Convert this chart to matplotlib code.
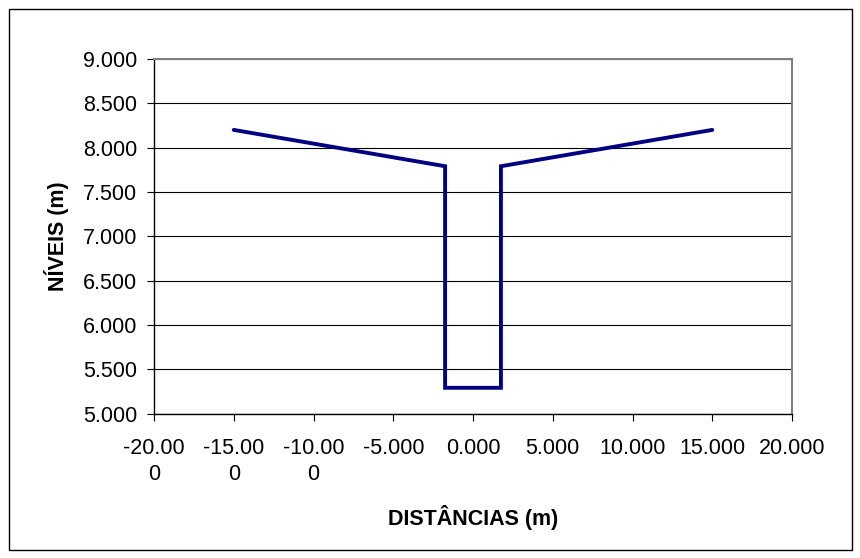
import matplotlib
matplotlib.use("Agg")
import matplotlib.pyplot as plt
from matplotlib.patches import Rectangle

plt.rcParams['font.family'] = ['Liberation Sans', 'DejaVu Sans']

distancias = [-15.0, -1.75, -1.75, 1.75, 1.75, 15.0]
niveis = [8.20, 7.79, 5.29, 5.29, 7.79, 8.20]
x_ticks = [-20, -15, -10, -5, 0, 5, 10, 15, 20]
x_tick_labels = ["-20.00\n0", "-15.00\n0", "-10.00\n0", "-5.000", "0.000",
                 "5.000", "10.000", "15.000", "20.000"]
y_ticks = [5.0, 5.5, 6.0, 6.5, 7.0, 7.5, 8.0, 8.5, 9.0]
y_tick_labels = ["5.000", "5.500", "6.000", "6.500", "7.000", "7.500",
                 "8.000", "8.500", "9.000"]

W, H = 860, 558
fig = plt.figure(figsize=(W / 100, H / 100), dpi=100)
fig.patch.set_facecolor('white')
fig.patches.append(Rectangle((8.5 / W, 1 - 549.5 / H), (852 - 8.5) / W, (549.5 - 8.5) / H,
                             transform=fig.transFigure, fill=False,
                             edgecolor='black', linewidth=1.0))

left, right, top, bottom = 154, 792, 59, 413.5
ax = fig.add_axes([left / W, 1 - bottom / H, (right - left) / W, (bottom - top) / H])
ax.plot(distancias, niveis, color='#000080', linewidth=2.8, solid_joinstyle='miter',
        solid_capstyle='round', zorder=3)
ax.set_xlim(-20, 20)
ax.set_ylim(5, 9)
ax.set_xticks(x_ticks)
ax.set_xticklabels(x_tick_labels, fontsize=15.5, linespacing=1.3, va='top')
ax.set_yticks(y_ticks)
ax.set_yticklabels(y_tick_labels, fontsize=15.5)
ax.yaxis.grid(True, color='black', linewidth=0.8)
ax.set_axisbelow(True)
ax.tick_params(axis='both', direction='out', length=5, width=0.8, color='black')
ax.tick_params(axis='y', pad=7)
ax.tick_params(axis='x', pad=13)
for s in ['top', 'right']:
    ax.spines[s].set_color('#808080')
    ax.spines[s].set_linewidth(1.5)
for s in ['left', 'bottom']:
    ax.spines[s].set_color('black')
    ax.spines[s].set_linewidth(1.0)

fig.text(473 / W, 1 - 517 / H, "DISTÂNCIAS (m)", fontsize=15.5, fontweight='bold',
         ha='center', va='center')
fig.text(57 / W, 1 - 236 / H, "NÍVEIS (m)", fontsize=15.5, fontweight='bold',
         ha='center', va='center', rotation=90)

fig.savefig("out.png", dpi=100)
